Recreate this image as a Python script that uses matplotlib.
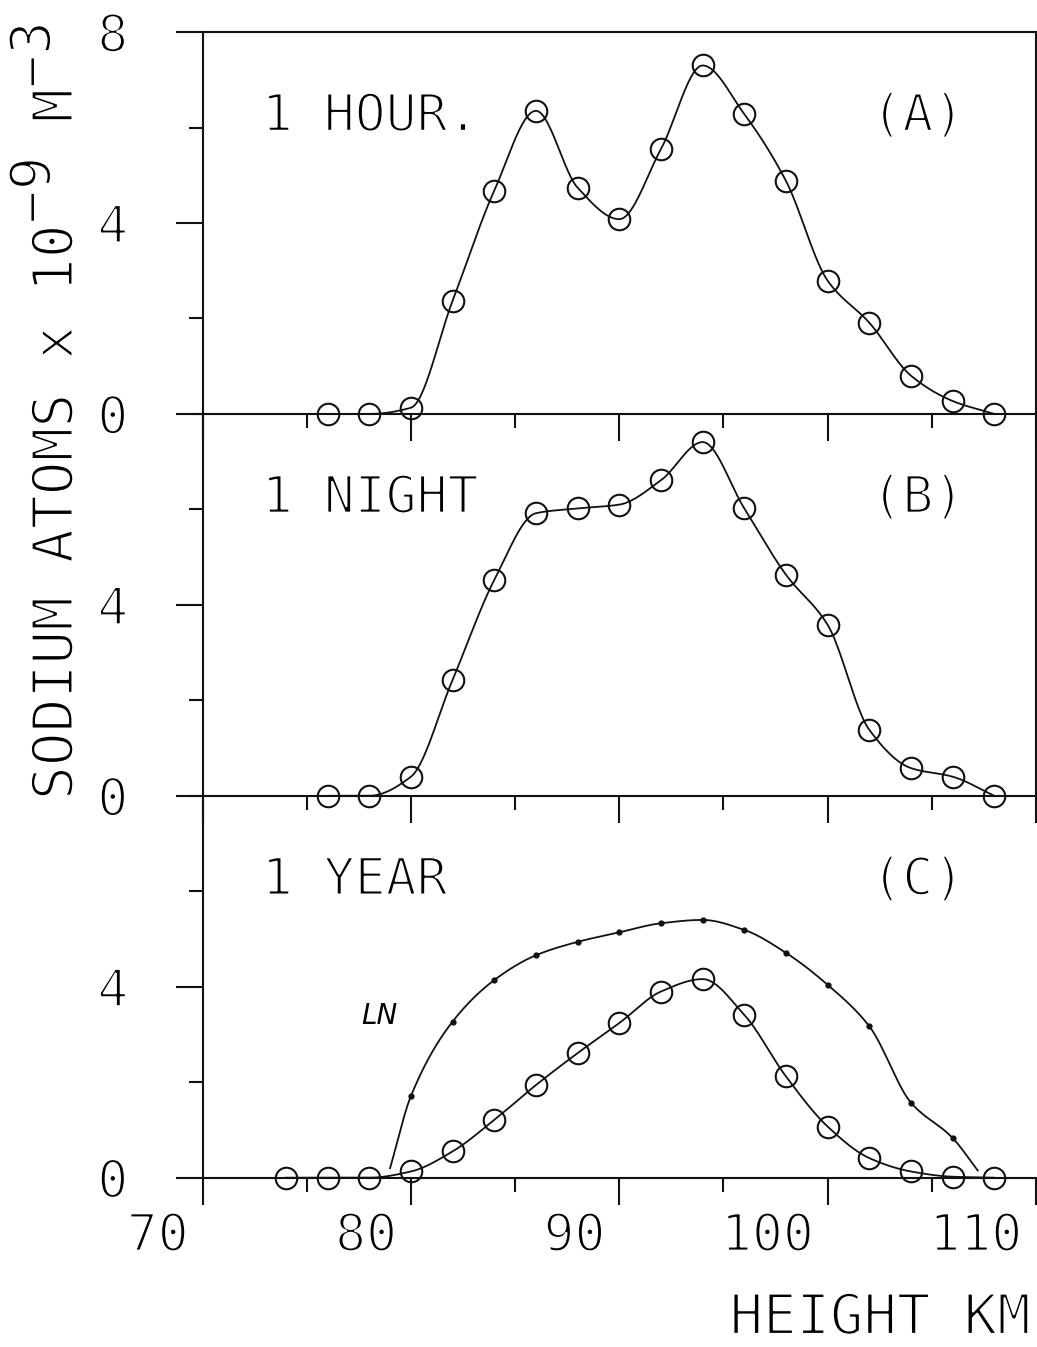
import numpy as np
import matplotlib.pyplot as plt
import matplotlib.patheffects as pe
from matplotlib.transforms import ScaledTranslation

plt.rcParams['font.family'] = ['DejaVu Sans Mono']

# heights in km and sodium densities (x 10^-9 m^-3)
heights = [76, 78, 80, 82, 84, 86, 88, 90, 92, 94, 96, 98, 100, 102, 104, 106, 108]
hour = [0, 0, 0.13, 2.37, 4.68, 6.35, 4.74, 4.08, 5.55, 7.3, 6.28, 4.88, 2.79, 1.91, 0.8, 0.27, 0]
night = [0, 0, 0.4, 2.43, 4.52, 5.92, 6.02, 6.1, 6.61, 7.41, 6.02, 4.63, 3.58, 1.38, 0.58, 0.4, 0]

year_heights = [74, 76, 78, 80, 82, 84, 86, 88, 90, 92, 94, 96, 98, 100, 102, 104, 106, 108]
year = [0, 0, 0, 0.13, 0.55, 1.21, 1.94, 2.61, 3.24, 3.9, 4.16, 3.41, 2.12, 1.07, 0.41, 0.13, 0.02, 0]

ln_heights = [79, 80, 82, 84, 86, 88, 90, 92, 94, 96, 98, 100, 102, 104, 106, 107.2]
ln = [0.2, 1.71, 3.27, 4.14, 4.66, 4.94, 5.14, 5.33, 5.4, 5.19, 4.71, 4.04, 3.17, 1.57, 0.83, 0.15]

panel_names = ["1 HOUR.", "1 NIGHT", "1 YEAR"]
panel_tags = ["(A)", "(B)", "(C)"]
y_major = [[0, 4, 8], [0, 4], [0, 4]]

# thin the glyphs a bit so they look more like pen-plotter lettering
thin = [pe.Stroke(linewidth=1.6, foreground='white')]


def smooth(x, y, n=30):
    # monotone cubic (pchip) just for drawing the curve through the points
    x = np.asarray(x, float)
    y = np.asarray(y, float)
    h = np.diff(x)
    d = np.diff(y) / h
    m = np.zeros_like(y)
    m[0], m[-1] = d[0], d[-1]
    for k in range(1, len(x) - 1):
        if d[k - 1] * d[k] > 0:
            w1 = 2 * h[k] + h[k - 1]
            w2 = h[k] + 2 * h[k - 1]
            m[k] = (w1 + w2) / (w1 / d[k - 1] + w2 / d[k])
    xs, ys = [], []
    for k in range(len(x) - 1):
        t = np.linspace(0, 1, n, endpoint=(k == len(x) - 2))
        h00 = 2 * t**3 - 3 * t**2 + 1
        h10 = t**3 - 2 * t**2 + t
        h01 = -2 * t**3 + 3 * t**2
        h11 = t**3 - t**2
        xs.append(x[k] + t * h[k])
        ys.append(h00 * y[k] + h10 * h[k] * m[k] + h01 * y[k + 1] + h11 * h[k] * m[k + 1])
    return np.concatenate(xs), np.concatenate(ys)


fig = plt.figure(figsize=(10.37, 13.47), dpi=100)
left, width, ph = 0.1953, 0.8038, 0.2835
bottoms = [0.1257 + 2 * ph, 0.1257 + ph, 0.1257]
axes = [fig.add_axes([left, b, width, ph]) for b in bottoms]

series = [(heights, hour), (heights, night), (year_heights, year)]
ink = '#111111'

for i, ax in enumerate(axes):
    ax.set_xlim(70, 110)
    ax.set_ylim(0, 8)
    ax.patch.set_visible(False)
    ax.spines['top'].set_visible(i == 0)
    ax.spines['right'].set_visible(i < 2)
    for s in ax.spines.values():
        s.set_linewidth(1.5)
        s.set_color(ink)
    ax.set_xticks([70, 80, 90, 100, 110])
    ax.set_xticks([75, 85, 95, 105], minor=True)
    ax.set_yticks(y_major[i])
    ax.set_yticks([2, 6, 8] if i > 0 else [2, 6], minor=True)
    ax.tick_params(which='major', length=19.5, width=1.5, direction='out', color=ink)
    ax.tick_params(which='minor', length=10, width=1.5, direction='out', color=ink)
    ax.tick_params(axis='y', which='major', pad=34, labelsize=37)
    ax.tick_params(axis='x', which='major', pad=5, labelsize=37, labelbottom=(i == 2))
    ax.set_xticklabels(['70', '80', '90', '100', '110'])
    for lbl in ax.get_xticklabels() + ax.get_yticklabels():
        lbl.set_path_effects(thin)

    xs, ys = series[i]
    sx, sy = smooth(xs, ys)
    ax.plot(sx, sy, color=ink, lw=1.3, clip_on=False)
    ax.plot(xs, ys, 'o', mfc='none', mec=ink, ms=15.5, mew=1.5, clip_on=False)

    ax.text(72.85, 5.93, panel_names[i], fontsize=37, ha='left', va='baseline', path_effects=thin)
    ax.text(102.1, 5.93, panel_tags[i], fontsize=37, ha='left', va='baseline', path_effects=thin)

# long-term mean curve in panel C
lx, ly = smooth(ln_heights, ln)
axes[2].plot(lx, ly, color=ink, lw=1.3)
axes[2].plot(ln_heights[1:-1], ln[1:-1], 'o', color=ink, ms=3.5)
axes[2].text(77.6, 3.39, 'LN', fontsize=20, style='italic', family='DejaVu Sans',
             ha='left', va='center')

# x tick labels sit to the left of their ticks
shift = ScaledTranslation(-14 / 100, 0, fig.dpi_scale_trans)
for lbl in axes[2].get_xticklabels():
    lbl.set_ha('right')
    lbl.set_transform(lbl.get_transform() + shift)

fig.text(1030 / 1037, 1 - 1334 / 1347, 'HEIGHT KM', fontsize=40, ha='right', va='baseline',
         path_effects=thin)

# y label with full-size raised exponents
fs = 40.5
t1 = fig.text(0.0555, 0.406, 'SODIUM ATOMS x 10', fontsize=fs, rotation=90,
              ha='center', va='bottom', path_effects=thin)
t2 = axes[0].annotate('\u22129', xy=(0, 1), xycoords=t1, xytext=(-16, 0), textcoords='offset points',
                      fontsize=fs, rotation=90, ha='left', va='bottom', annotation_clip=False,
                      path_effects=thin)
t3 = axes[0].annotate(' M', xy=(0, 1), xycoords=t2, xytext=(16, 0), textcoords='offset points',
                      fontsize=fs, rotation=90, ha='left', va='bottom', annotation_clip=False,
                      path_effects=thin)
t4 = axes[0].annotate('\u22123', xy=(0, 1), xycoords=t3, xytext=(-16, 0), textcoords='offset points',
                      fontsize=fs, rotation=90, ha='left', va='bottom', annotation_clip=False,
                      path_effects=thin)

fig.savefig('out.png', dpi=100, facecolor='white')
